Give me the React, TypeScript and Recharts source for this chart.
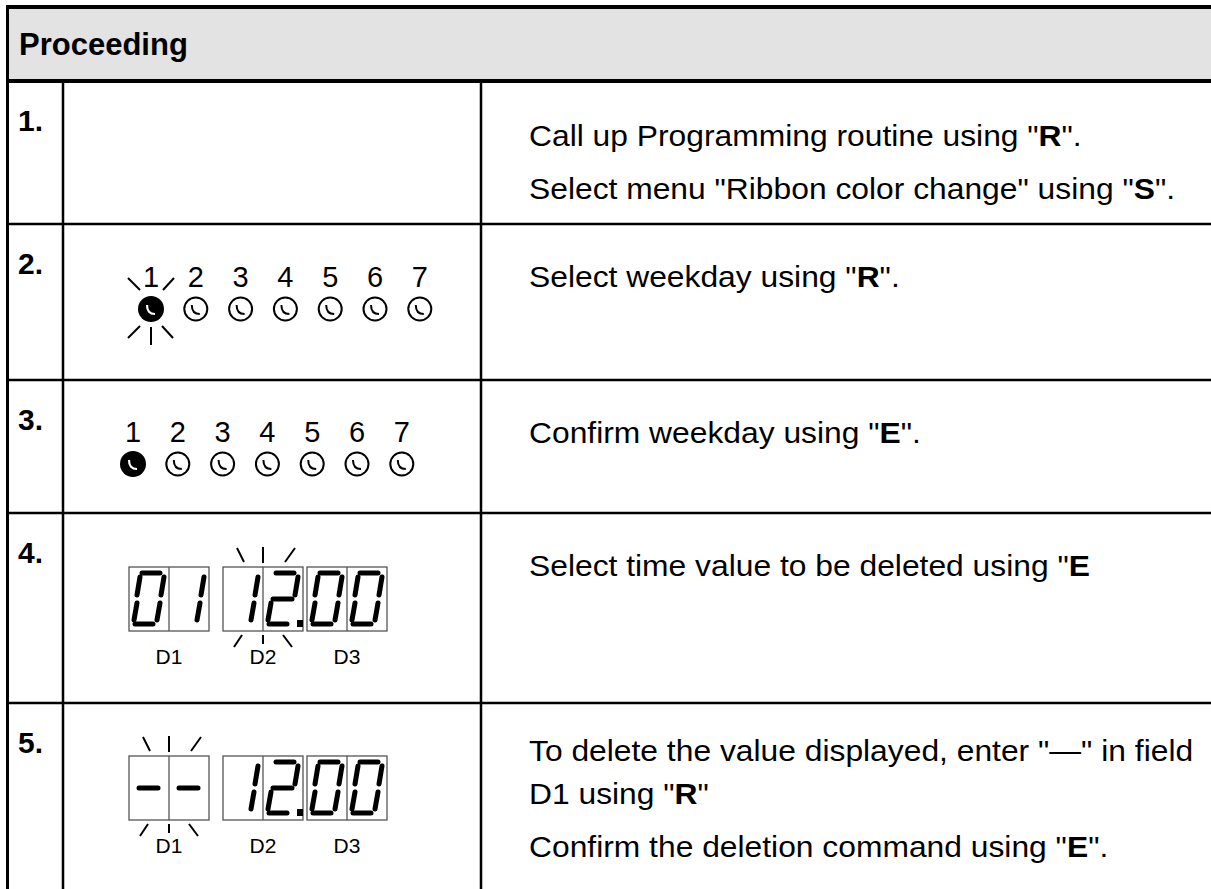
import React from 'react';
import { ScatterChart, Scatter, XAxis, YAxis, ReferenceArea, ReferenceLine } from 'recharts';

// ---- content ----
const headerTitle = 'Proceeding';
const steps = ['1.', '2.', '3.', '4.', '5.'];

// paragraphs per step, each paragraph may wrap over several lines; *x* = bold
const instructions: string[][][] = [
  [['Call up Programming routine using "*R*".'], ['Select menu "Ribbon color change" using "*S*".']],
  [['Select weekday using "*R*".']],
  [['Confirm weekday using "*E*".']],
  [['Select time value to be deleted using "*E*']],
  [['To delete the value displayed, enter "\u2014" in field', 'D1 using "*R*"'], ['Confirm the deletion command using "*E*".']],
];

const weekdays = ['1', '2', '3', '4', '5', '6', '7'];
const activeDay = '1';

const displayFields = ['D1', 'D2', 'D3'];
const displayStep4 = ['01', '12.', '00'];
const displayStep5 = ['--', '12.', '00'];
const blinkFieldStep4 = 'D2';
const blinkFieldStep5 = 'D1';

// ---- layout ----
const W = 1211;
const H = 889;
const FONT = '"Liberation Sans", Arial, Helvetica, sans-serif';
const rowTops = [81, 224, 380, 513, 703];
const firstLineOffset = [65, 63, 63, 63, 58];
const colLeft = 7.5;
const col1 = 63;
const col2 = 481;
const textX = 529;

const SEG: Record<string, number[]> = {
  a: [13, 6, 31, 6],
  b: [35, 10, 32, 28],
  c: [31, 36, 28, 53],
  d: [6, 57, 24, 57],
  e: [8, 36, 5, 53],
  f: [11, 10, 8, 28],
  g: [10, 32, 29, 32],
};
const GLYPHS: Record<string, string> = { '0': 'abcdef', '1': 'bc', '2': 'abged', '-': 'g', ' ': '' };

const splitCells = (s: string) => {
  const cells: { ch: string; dp: boolean }[] = [];
  for (const ch of s) {
    if (ch === '.' && cells.length) cells[cells.length - 1].dp = true;
    else cells.push({ ch, dp: false });
  }
  return cells;
};

// build point sets
const headerPoints = [{ x: 19, y: 55, text: headerTitle }];
const stepPoints = steps.map((s, i) => ({ x: 18, y: rowTops[i] + 50, text: s }));

const textPoints: { x: number; y: number; text: string }[] = [];
instructions.forEach((paras, i) => {
  let y = rowTops[i] + firstLineOffset[i];
  paras.forEach((lines, p) => {
    if (p > 0) y += 53;
    lines.forEach((line, l) => {
      if (l > 0) y += 43;
      textPoints.push({ x: textX, y, text: line });
    });
  });
});

const weekdayPoints = [
  ...weekdays.map((d, i) => ({ x: 151 + i * 44.8, y: 309, day: d, active: d === activeDay, blink: d === activeDay })),
  ...weekdays.map((d, i) => ({ x: 133 + i * 44.8, y: 464, day: d, active: d === activeDay, blink: false })),
];

const boxLefts = [129, 223, 307];
const displayPoints = [
  ...displayFields.map((f, j) => ({ x: boxLefts[j] + 40, y: rowTops[3] + 86, value: displayStep4[j], label: f, blink: f === blinkFieldStep4 })),
  ...displayFields.map((f, j) => ({ x: boxLefts[j] + 40, y: rowTops[4] + 85, value: displayStep5[j], label: f, blink: f === blinkFieldStep5 })),
];

const renderRich = (text: string) =>
  text.split('*').map((part, k) => (
    <tspan key={k} fontWeight={k % 2 === 1 ? 'bold' : 'normal'}>{part}</tspan>
  ));

const HeaderShape = (props: any) => {
  const { cx, cy, payload } = props;
  return (
    <text x={cx} y={cy} fontFamily={FONT} fontWeight="bold" fontSize={31} fill="#000">{payload.text}</text>
  );
};

const StepShape = (props: any) => {
  const { cx, cy, payload } = props;
  return (
    <text x={cx} y={cy} fontFamily={FONT} fontWeight="bold" fontSize={30} fill="#000">{payload.text}</text>
  );
};

const TextShape = (props: any) => {
  const { cx, cy, payload } = props;
  return (
    <g transform={`translate(${cx},${cy}) scale(1.06,1)`}>
      <text x={0} y={0} fontFamily={FONT} fontSize={30} fill="#000">{renderRich(payload.text)}</text>
    </g>
  );
};

const Ray = ({ p }: { p: number[] }) => (
  <line x1={p[0]} y1={p[1]} x2={p[2]} y2={p[3]} stroke="#000" strokeWidth={2} />
);

const circleRays = [
  [-23, -31, -11, -19],
  [12, -19, 23, -31],
  [-23, 29, -11, 17],
  [0, 18, 0, 36],
  [11, 17, 22, 29],
];

const WeekdayShape = (props: any) => {
  const { cx, cy, payload } = props;
  return (
    <g transform={`translate(${cx},${cy})`}>
      <text x={0} y={-22} textAnchor="middle" fontFamily={FONT} fontSize={29} fill="#000">{payload.day}</text>
      {payload.active ? (
        <>
          <circle r={13} fill="#000" />
          <path d="M -4 -4 Q -4 5 4 5" fill="none" stroke="#fff" strokeWidth={2.2} />
        </>
      ) : (
        <>
          <circle r={11.5} fill="#fff" stroke="#000" strokeWidth={2} />
          <path d="M -4 -4 Q -4 5 4 5" fill="none" stroke="#000" strokeWidth={2} />
        </>
      )}
      {payload.blink && circleRays.map((p, k) => <Ray key={k} p={p} />)}
    </g>
  );
};

const boxRays = [
  [-26, -51, -19, -37],
  [0, -52, 0, -36],
  [32, -51, 22, -37],
  [-21, 36, -29, 48],
  [0, 36, 0, 45],
  [20, 36, 29, 48],
];

const DisplayShape = (props: any) => {
  const { cx, cy, payload } = props;
  const left = cx - 40;
  const top = cy - 32;
  const cells = splitCells(payload.value);
  return (
    <g>
      <rect x={left} y={top} width={80} height={64} fill="none" stroke="#555" strokeWidth={1.3} />
      <line x1={left + 40} y1={top} x2={left + 40} y2={top + 64} stroke="#555" strokeWidth={1.3} />
      {cells.map((c, k) => {
        const x0 = left + k * 40;
        return (
          <g key={k}>
            {(GLYPHS[c.ch] || '').split('').map((s) => {
              const p = SEG[s];
              return (
                <line key={s} x1={x0 + p[0]} y1={top + p[1]} x2={x0 + p[2]} y2={top + p[3]}
                  stroke="#000" strokeWidth={5} strokeLinecap="round" />
              );
            })}
            {c.dp && <rect x={x0 + 34} y={top + 53} width={6} height={7} fill="#000" />}
          </g>
        );
      })}
      <text x={cx} y={top + 97} textAnchor="middle" fontFamily={FONT} fontSize={21} fill="#000">{payload.label}</text>
      {payload.blink && (
        <g transform={`translate(${cx},${cy})`}>
          {boxRays.map((p, k) => <Ray key={k} p={p} />)}
        </g>
      )}
    </g>
  );
};

const tableLines = [
  { seg: [[colLeft, 7], [W, 7]], w: 4 },
  { seg: [[colLeft, 81], [W, 81]], w: 4 },
  ...rowTops.slice(1).map((y) => ({ seg: [[colLeft, y], [W, y]], w: 2.5 })),
  { seg: [[colLeft, 5], [colLeft, H]], w: 3 },
  { seg: [[col1, 81], [col1, H]], w: 2.5 },
  { seg: [[col2, 81], [col2, H]], w: 2.5 },
];

export default function App() {
  return (
    <div style={{ position: 'absolute', left: 0, top: 0, background: '#fff' }}>
      <ScatterChart width={W} height={H} margin={{ top: 0, right: 0, bottom: 0, left: 0 }}>
        <XAxis type="number" dataKey="x" domain={[0, W]} hide allowDataOverflow />
        <YAxis type="number" dataKey="y" domain={[0, H]} reversed hide allowDataOverflow />
        <ReferenceArea x1={colLeft} x2={W} y1={7} y2={81} fill="#e3e3e3" fillOpacity={1} stroke="none" />
        {tableLines.map((l, i) => (
          <ReferenceLine
            key={i}
            segment={[{ x: l.seg[0][0], y: l.seg[0][1] }, { x: l.seg[1][0], y: l.seg[1][1] }]}
            stroke="#000"
            strokeWidth={l.w}
            ifOverflow="visible"
          />
        ))}
        <Scatter data={headerPoints} shape={HeaderShape} isAnimationActive={false} />
        <Scatter data={stepPoints} shape={StepShape} isAnimationActive={false} />
        <Scatter data={textPoints} shape={TextShape} isAnimationActive={false} />
        <Scatter data={weekdayPoints} shape={WeekdayShape} isAnimationActive={false} />
        <Scatter data={displayPoints} shape={DisplayShape} isAnimationActive={false} />
      </ScatterChart>
    </div>
  );
}
